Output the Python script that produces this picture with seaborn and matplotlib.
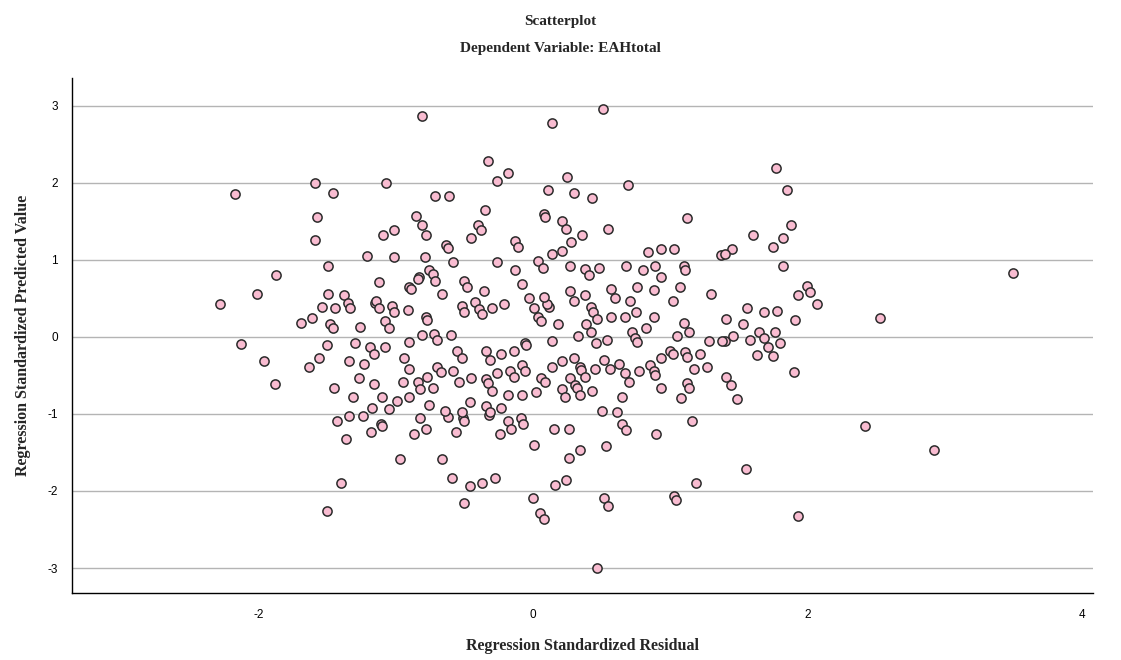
import matplotlib
matplotlib.use("Agg")
import matplotlib.pyplot as plt
import pandas as pd
import seaborn as sns

# (standardized residual, standardized predicted value)
resid = [
    0.51, -0.81, 0.14, -0.33, -0.18, -0.26, -1.07, 0.11, -0.71, -0.61,
    -0.35, -0.85, -0.81, -0.78, -1.09, -1.01, -0.40, -0.38, -0.45, -0.63,
    -0.62, -0.13, -0.11, 0.08, 0.09, -1.01, -0.79,
    0.25, 0.69, 0.30, 0.43, 1.12, 0.21, 0.24, 0.36, 0.55, 0.28, 0.21, 0.14,
    0.84, 0.93, 1.03, 1.37,
    1.77, 1.85, 1.88, 1.60, 1.82, 1.75, 1.45, 1.40,
    -1.59, -2.17, -1.46, -1.57, -1.59, -1.21,
    -1.49, -1.87, -2.01, -2.28, -1.49, -1.38, -1.35, -1.33, -1.54, -1.44,
    -1.61, -1.69, -1.48, -1.46, -1.26, -1.15, -2.13, -1.50, -1.30, -1.19,
    -1.16, -1.96, -1.56, -1.63, -1.34, -1.23, -1.88, -1.45, -1.27, -1.16,
    -1.31, -1.17,
    -1.43, -1.34, -1.24, -1.36, -1.18, -1.40, -1.50,
    2.42, 1.55, 1.93, 2.92,
    0.15, 0.26, 0.65, 0.68, 0.90, 1.16, 0.34, 0.26, 0.53, 0.16, 0.24,
    0.52, 0.55, 1.03, 1.04, 1.19, 0.47,
    -1.11, -1.10, -0.82, -0.87, -0.78, -0.62, -0.56, -0.51, -0.50, -0.32,
    -0.24, -0.18, -0.16, -0.09, -0.07, 0.01, -0.97, -0.66, -0.59, -0.46,
    -0.37, -0.28, -0.50, 0.00, 0.05, 0.08,
    1.82, 2.00, 2.02, 1.93, 2.07, 2.53, 1.56, 1.68, 1.78, 1.91, 1.41, 1.53,
    1.46, 1.40, 1.58, 1.65, 1.68, 1.76, 1.71, 1.80, 1.63, 1.75, 1.90, 1.41,
    1.44, 1.49, 3.50,
    0.27, 0.38, 0.41, 0.48, 0.68, 0.80, 0.89, 0.93, 1.10, 1.11, 0.27, 0.30,
    0.38, 0.57, 0.60, 0.76, 0.88, 1.07, 1.30, 1.02, 0.71, 0.42, 0.44, 0.47,
    0.57, 0.67, 0.75, 0.88, 0.12, 0.18, 0.39, 0.42, 0.33, 0.46, 0.54, 0.72,
    0.74, 0.76, 0.82, 1.10, 1.14, 1.05, 1.28, 1.38, 0.14, 0.21, 0.14, 0.30,
    0.34, 0.35, 0.38, 0.45, 0.52, 0.56, 0.63, 0.67, 0.70, 0.77, 0.85, 0.88,
    0.89, 0.93, 1.00, 1.02, 1.11, 1.12, 1.22, 1.17, 1.27, 0.27, 0.31, 0.32,
    0.21, 0.23, 0.34, 0.43, 0.93, 1.12, 1.14, 0.65, 1.08, 0.50, 0.61,
    -0.58, -0.26, 0.04, 0.07, -0.13, -0.08, -0.76, -0.73, -0.71, -0.83,
    -0.84, -0.90, -0.89, -1.12, -0.66, -0.50, -0.48, -0.36, -1.14, -1.12,
    -1.03, -1.01, -0.91, -1.08, -1.05, -0.78, -0.77, -0.52, -0.50, -0.42,
    -0.39, -0.37, -0.30, -0.21, -0.03, 0.01, 0.04, 0.06, 0.10, 0.08,
    -0.81, -0.72, -0.70, -0.60, -0.90, -1.08, -0.94, -0.90, -0.55, -0.52,
    -0.34, -0.31, -0.23, -0.14, -0.06, -0.05, -0.70, -0.67, -0.58, -0.77,
    -0.45, -0.34, -0.33, -0.30, -0.26, -0.17, -0.14, -0.08, -0.06, 0.06,
    0.09, -0.95, -0.84, -0.82, -0.73, -0.54, -1.10, -0.99, -0.90, -0.76,
    -0.46, -0.18, -0.08, 0.02, -1.05, -0.64, -0.52, -0.34, -0.31, -0.23,
]
predicted = [
    2.95, 2.87, 2.78, 2.28, 2.12, 2.02, 2.00, 1.90, 1.83, 1.83,
    1.64, 1.57, 1.45, 1.32, 1.32, 1.39, 1.45, 1.39, 1.28, 1.19,
    1.15, 1.24, 1.16, 1.59, 1.56, 1.03, 1.03,
    2.07, 1.97, 1.87, 1.80, 1.54, 1.50, 1.40, 1.32, 1.40, 1.23, 1.12, 1.07,
    1.10, 1.14, 1.14, 1.06,
    2.19, 1.90, 1.45, 1.32, 1.28, 1.16, 1.14, 1.08,
    2.00, 1.85, 1.87, 1.56, 1.25, 1.05,
    0.92, 0.80, 0.56, 0.42, 0.56, 0.54, 0.44, 0.37, 0.39, 0.37,
    0.25, 0.18, 0.16, 0.11, 0.13, 0.44, -0.09, -0.10, -0.08, -0.13,
    -0.22, -0.32, -0.28, -0.39, -0.32, -0.35, -0.61, -0.66, -0.54, -0.61,
    -0.78, -0.93,
    -1.09, -1.03, -1.03, -1.32, -1.23, -1.90, -2.26,
    -1.16, -1.71, -2.33, -1.47,
    -1.19, -1.19, -1.13, -1.21, -1.26, -1.09, -1.47, -1.57, -1.42, -1.92, -1.86,
    -2.09, -2.19, -2.06, -2.12, -1.90, -3.00,
    -1.13, -1.16, -1.05, -1.26, -1.19, -1.04, -1.23, -1.05, -1.09, -1.01,
    -1.26, -1.09, -1.19, -1.05, -1.13, -1.40, -1.59, -1.59, -1.83, -1.93,
    -1.90, -1.83, -2.16, -2.09, -2.28, -2.36,
    0.92, 0.66, 0.58, 0.54, 0.42, 0.25, 0.37, 0.32, 0.34, 0.22, 0.23, 0.16,
    0.01, -0.06, -0.04, 0.06, -0.01, 0.06, -0.13, -0.08, -0.23, -0.25, -0.45, -0.52,
    -0.63, -0.81, 0.83,
    0.92, 0.88, 0.80, 0.89, 0.92, 0.87, 0.92, 0.78, 0.92, 0.87, 0.59, 0.47,
    0.54, 0.62, 0.51, 0.65, 0.61, 0.65, 0.56, 0.47, 0.47, 0.39, 0.32, 0.23,
    0.26, 0.26, 0.32, 0.26, 0.39, 0.16, 0.16, 0.06, 0.01, -0.08, -0.04, 0.06,
    -0.01, -0.07, 0.11, 0.18, 0.06, 0.01, -0.06, -0.06, -0.05, -0.32, -0.39, -0.28,
    -0.39, -0.43, -0.52, -0.42, -0.30, -0.42, -0.35, -0.47, -0.58, -0.44, -0.37, -0.44,
    -0.49, -0.28, -0.18, -0.22, -0.20, -0.26, -0.22, -0.42, -0.39, -0.54, -0.63, -0.67,
    -0.68, -0.78, -0.75, -0.70, -0.66, -0.60, -0.67, -0.78, -0.80, -0.96, -0.98,
    0.97, 0.97, 0.99, 0.89, 0.87, 0.68, 0.87, 0.81, 0.73, 0.78,
    0.75, 0.65, 0.62, 0.71, 0.56, 0.73, 0.65, 0.59, 0.46, 0.37,
    0.40, 0.32, 0.35, 0.21, 0.11, 0.26, 0.22, 0.40, 0.32, 0.45,
    0.36, 0.29, 0.37, 0.42, 0.50, 0.37, 0.26, 0.20, 0.42, 0.52,
    0.03, 0.04, -0.04, 0.02, -0.07, -0.13, -0.28, -0.42, -0.18, -0.28,
    -0.18, -0.30, -0.22, -0.18, -0.08, -0.11, -0.39, -0.46, -0.44, -0.52,
    -0.54, -0.55, -0.60, -0.70, -0.47, -0.44, -0.52, -0.36, -0.44, -0.54,
    -0.59, -0.58, -0.59, -0.68, -0.66, -0.59, -0.78, -0.83, -0.78, -0.89,
    -0.84, -0.75, -0.75, -0.72, -0.94, -0.96, -0.97, -0.90, -0.97, -0.93,
]

x_ticks = [-2, 0, 2, 4]
y_ticks = [-3, -2, -1, 0, 1, 2, 3]

df = pd.DataFrame({"resid": resid, "pred": predicted})

sns.set_style("white")
plt.rcParams["font.family"] = ["Liberation Sans", "DejaVu Sans"]
plt.rcParams["axes.unicode_minus"] = False  # SPSS prints a plain hyphen

fig = plt.figure(figsize=(11.21, 6.6), dpi=100)
ax = fig.add_axes([0.064, 0.102, 0.911, 0.780])

for yt in y_ticks:
    ax.axhline(yt, color="#b4b4b4", lw=1.0, zorder=0)

sns.scatterplot(
    data=df, x="resid", y="pred", ax=ax,
    s=44, color="#f9bcd1", edgecolor="#2b2b2b", linewidth=1.1, zorder=3,
)

ax.set_xlim(-3.36, 4.08)
ax.set_ylim(-3.32, 3.36)
ax.set_xticks(x_ticks)
ax.set_yticks(y_ticks)
ax.tick_params(axis="x", labelsize=8.5, length=0, pad=12, colors="black")
ax.tick_params(axis="y", labelsize=8.5, length=0, pad=10, colors="black")

for side in ["top", "right"]:
    ax.spines[side].set_visible(False)
for side in ["left", "bottom"]:
    ax.spines[side].set_color("black")
    ax.spines[side].set_linewidth(1.0)

serif = ["Liberation Serif", "DejaVu Serif"]
ax.set_xlabel("Regression Standardized Residual", family=serif,
              fontweight="bold", fontsize=11.5, labelpad=12)
ax.set_ylabel("Regression Standardized Predicted Value", family=serif,
              fontweight="bold", fontsize=11.5, labelpad=12)

fig.text(0.5, 0.967, "Scatterplot", family=serif, fontweight="bold",
         fontsize=11, ha="center", va="center")
fig.text(0.5, 0.927, "Dependent Variable: EAHtotal", family=serif,
         fontweight="bold", fontsize=11, ha="center", va="center")

fig.savefig("out.png", dpi=100)
plt.close(fig)
